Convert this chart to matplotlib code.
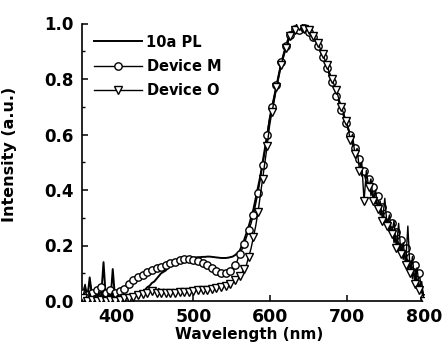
import numpy as np
import matplotlib
matplotlib.use("Agg")
import matplotlib.pyplot as plt
from matplotlib.ticker import MultipleLocator

# Sampling grid (nm) shared by all spectra
wavelength = np.arange(356, 801, 3)

# Photoluminescence of 10a (normalised)
pl_10a = [
    0.02, 0.04, 0.01, 0.085, 0.02, 0.0, 0.03, 0.01, 0.02, 0.14,
    0.01, 0.03, 0.0, 0.115, 0.01, 0.02, 0.0, 0.015, 0.01, 0.02,
    0.015, 0.02, 0.025, 0.02, 0.03, 0.03, 0.035, 0.04, 0.05, 0.055,
    0.065, 0.07, 0.08, 0.09, 0.10, 0.105, 0.11, 0.12, 0.125, 0.13,
    0.135, 0.14, 0.145, 0.148, 0.15, 0.152, 0.153, 0.155, 0.156, 0.157,
    0.158, 0.158, 0.159, 0.159, 0.16, 0.16, 0.159, 0.158, 0.157, 0.156,
    0.155, 0.155, 0.155, 0.156, 0.158, 0.16, 0.165, 0.172, 0.18, 0.20,
    0.22, 0.245, 0.27, 0.30, 0.33, 0.37, 0.41, 0.45, 0.50, 0.55,
    0.60, 0.65, 0.69, 0.73, 0.77, 0.81, 0.85, 0.88, 0.91, 0.935,
    0.955, 0.97, 0.978, 0.98, 0.982, 0.985, 0.983, 0.98, 0.975, 0.965,
    0.955, 0.94, 0.925, 0.905, 0.885, 0.865, 0.845, 0.82, 0.80, 0.775,
    0.75, 0.725, 0.70, 0.675, 0.65, 0.625, 0.60, 0.575, 0.55, 0.525,
    0.50, 0.48, 0.46, 0.44, 0.42, 0.40, 0.38, 0.36, 0.345, 0.33,
    0.31, 0.295, 0.28, 0.265, 0.25, 0.23, 0.215, 0.20, 0.185, 0.17,
    0.155, 0.14, 0.125, 0.11, 0.09, 0.075, 0.055, 0.04, 0.02,
]

# Electroluminescence of device M (normalised)
device_m = [
    0.03, 0.06, 0.02, 0.07, 0.03, 0.01, 0.04, 0.02, 0.05, 0.01,
    0.03, 0.02, 0.04, 0.01, 0.03, 0.02, 0.035, 0.03, 0.045, 0.05,
    0.06, 0.07, 0.075, 0.08, 0.085, 0.09, 0.095, 0.10, 0.103, 0.107,
    0.11, 0.115, 0.12, 0.122, 0.124, 0.127, 0.13, 0.135, 0.137, 0.14,
    0.142, 0.145, 0.148, 0.15, 0.151, 0.151, 0.152, 0.151, 0.149, 0.146,
    0.143, 0.14, 0.138, 0.135, 0.13, 0.125, 0.12, 0.113, 0.108, 0.104,
    0.101, 0.10, 0.10, 0.103, 0.108, 0.115, 0.128, 0.145, 0.17, 0.185,
    0.205, 0.23, 0.255, 0.28, 0.31, 0.35, 0.39, 0.44, 0.49, 0.54,
    0.60, 0.66, 0.70, 0.74, 0.78, 0.82, 0.86, 0.89, 0.92, 0.945,
    0.96, 0.975, 0.98, 0.985, 0.975, 0.97, 0.985, 0.98, 0.97, 0.96,
    0.95, 0.935, 0.92, 0.90, 0.88, 0.86, 0.84, 0.81, 0.79, 0.77,
    0.74, 0.72, 0.69, 0.67, 0.64, 0.62, 0.60, 0.56, 0.55, 0.50,
    0.51, 0.45, 0.47, 0.42, 0.44, 0.38, 0.41, 0.35, 0.38, 0.31,
    0.34, 0.28, 0.31, 0.25, 0.28, 0.21, 0.25, 0.18, 0.22, 0.15,
    0.19, 0.11, 0.16, 0.08, 0.13, 0.05, 0.10, 0.03, 0.01,
]

# Electroluminescence of device O (normalised)
device_o = [
    0.01, 0.05, 0.0, 0.03, 0.005, 0.02, 0.0, 0.035, 0.005, 0.02,
    0.0, 0.025, 0.005, 0.03, 0.0, 0.02, 0.005, 0.025, 0.01, 0.02,
    0.01, 0.025, 0.015, 0.03, 0.02, 0.035, 0.025, 0.04, 0.03, 0.045,
    0.035, 0.047, 0.03, 0.045, 0.03, 0.042, 0.028, 0.04, 0.03, 0.038,
    0.03, 0.04, 0.032, 0.04, 0.033, 0.04, 0.034, 0.038, 0.036, 0.04,
    0.038, 0.04, 0.04, 0.042, 0.041, 0.043, 0.044, 0.045, 0.046, 0.048,
    0.05, 0.052, 0.055, 0.058, 0.062, 0.068, 0.075, 0.082, 0.09, 0.10,
    0.115, 0.13, 0.16, 0.19, 0.23, 0.27, 0.32, 0.38, 0.44, 0.50,
    0.56, 0.63, 0.68, 0.72, 0.77, 0.81, 0.85, 0.88, 0.91, 0.935,
    0.955, 0.97, 0.975, 0.98, 0.99, 0.975, 0.98, 0.985, 0.975, 0.965,
    0.955, 0.94, 0.93, 0.91, 0.89, 0.87, 0.85, 0.82, 0.80, 0.78,
    0.76, 0.73, 0.70, 0.68, 0.65, 0.63, 0.58, 0.60, 0.53, 0.55,
    0.47, 0.50, 0.36, 0.47, 0.41, 0.44, 0.36, 0.40, 0.33, 0.36,
    0.29, 0.37, 0.27, 0.31, 0.24, 0.29, 0.19, 0.28, 0.17, 0.21,
    0.13, 0.27, 0.10, 0.16, 0.06, 0.12, 0.04, 0.07, 0.0,
]

x_ticks = [400, 500, 600, 700, 800]
y_ticks = [0.0, 0.2, 0.4, 0.6, 0.8, 1.0]

plt.rcParams['font.family'] = ['DejaVu Sans']
plt.rcParams['font.weight'] = 'bold'

fig = plt.figure(figsize=(4.43, 3.45), dpi=100)
ax = fig.add_axes([82 / 443, 1 - 301 / 345, (424 - 82) / 443, (301 - 23.5) / 345])

ax.plot(wavelength, pl_10a, color='black', lw=1.4, label='10a PL', zorder=2)
ax.plot(wavelength, device_m, color='black', lw=1.0, marker='o', ms=5.3,
        mfc='white', mec='black', mew=1.0, markevery=2,
        label=r'Device $\mathregular{M}$', zorder=3)
ax.plot(wavelength, device_o, color='black', lw=1.0, marker='v', ms=5.6,
        mfc='white', mec='black', mew=1.0, markevery=2,
        label=r'Device $\mathregular{O}$', zorder=4)

ax.set_xlim(355, 800)
ax.set_ylim(0, 1.0)
ax.spines['top'].set_visible(False)
ax.spines['right'].set_visible(False)
for s in ('left', 'bottom'):
    ax.spines[s].set_linewidth(1.2)

ax.set_xticks(x_ticks)
ax.set_xticklabels([str(v) for v in x_ticks])
ax.set_yticks(y_ticks)
ax.set_yticklabels(['%.1f' % v for v in y_ticks])
ax.yaxis.set_minor_locator(MultipleLocator(0.1))
ax.tick_params(axis='both', which='major', direction='in', length=4, width=1.1)
ax.tick_params(axis='y', which='minor', direction='in', length=2.5, width=1.0)
ax.tick_params(axis='x', labelsize=12.5, pad=5)
ax.tick_params(axis='y', labelsize=12, pad=6)

ax.set_xlabel('Wavelength (nm)', fontsize=11, fontweight='bold')
ax.set_ylabel('Intensity (a.u.)', fontsize=11.5, fontweight='bold')
ax.xaxis.set_label_coords(0.49, -0.092)
ax.yaxis.set_label_coords(-0.19, 0.53)

leg = ax.legend(loc='upper left', bbox_to_anchor=(0.035, 0.96), frameon=False,
                fontsize=10.5, handlelength=3.3, handletextpad=0.3,
                labelspacing=0.55, borderpad=0, borderaxespad=0, numpoints=1)

fig.savefig('out.png', dpi=100)
